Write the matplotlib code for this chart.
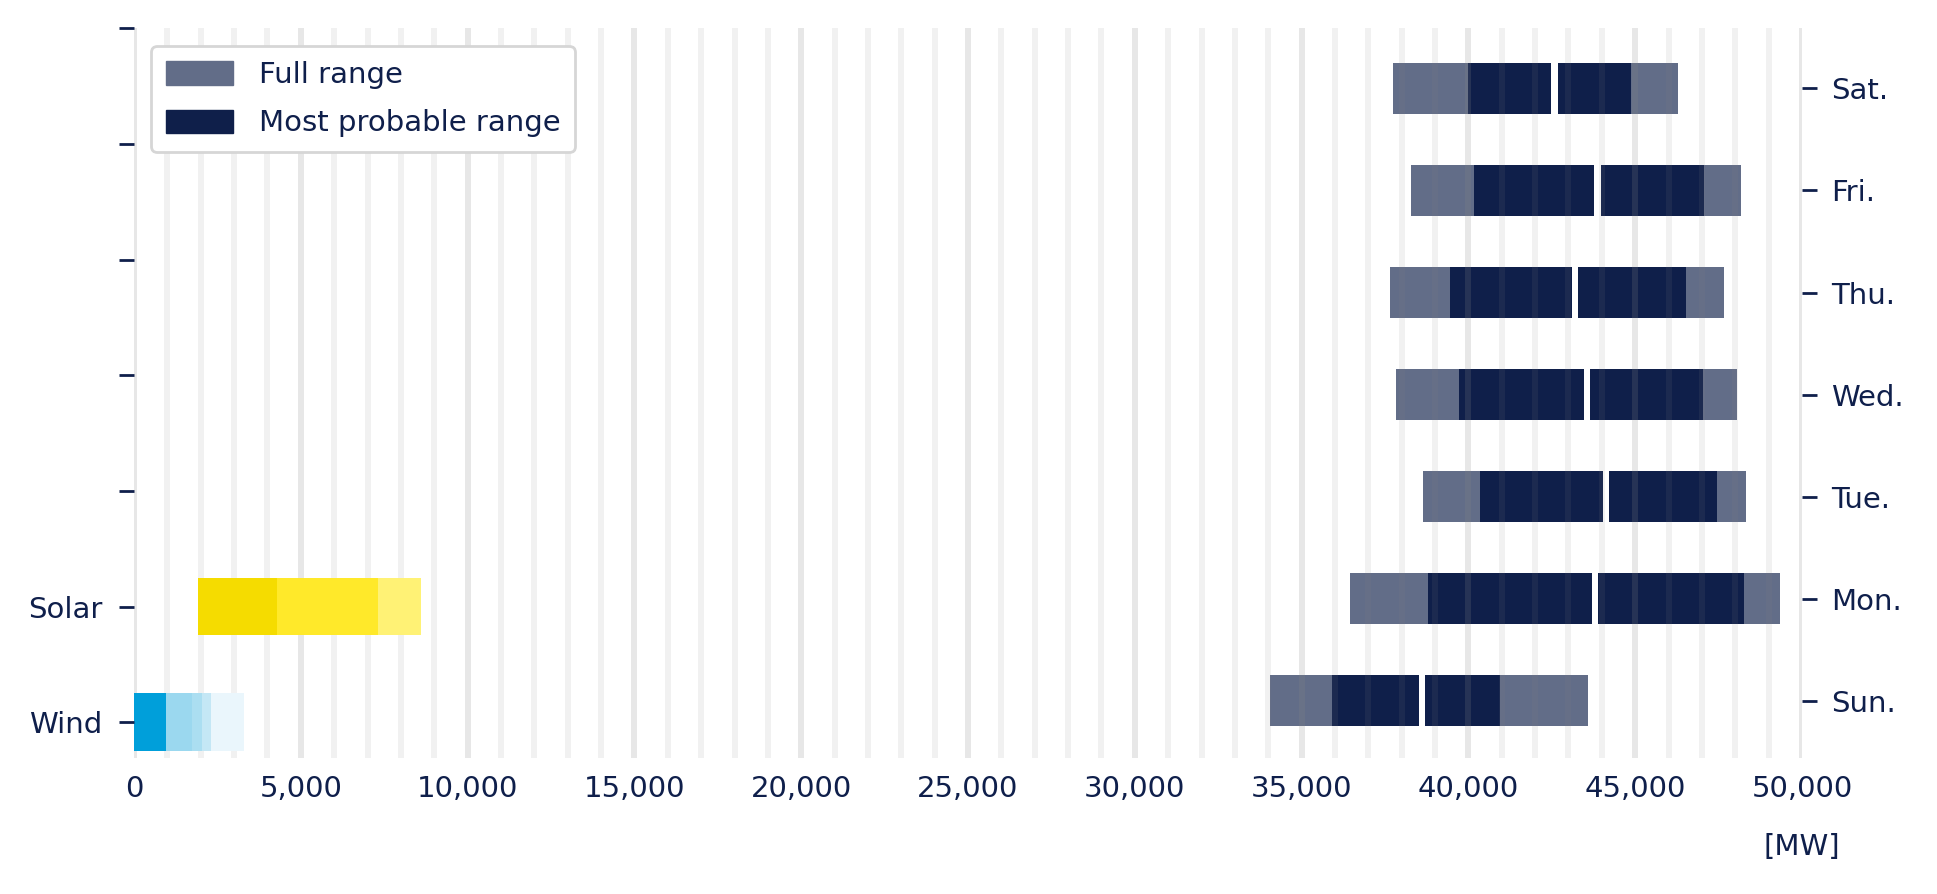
import matplotlib
matplotlib.use("Agg")
import matplotlib.pyplot as plt
import matplotlib.ticker as ticker
from matplotlib.patches import Patch

# weekday demand ranges [MW]
days = ["Sun.", "Mon.", "Tue.", "Wed.", "Thu.", "Fri.", "Sat."]
full_lo = [34050, 36460, 38650, 37840, 37650, 38290, 37750]
full_hi = [43590, 49330, 48310, 48040, 47660, 48180, 46280]
prob_lo = [35910, 38800, 40360, 39730, 39460, 40160, 40000]
prob_hi = [40960, 48250, 47440, 47020, 46510, 47050, 44860]
prob_split = [38610, 43795, 44125, 43555, 43200, 43860, 42580]

# renewables, stacked range bands [MW]
wind_edges = [0, 960, 1745, 2045, 2315, 3310]
wind_colors = ["#009fda", "#9bd8ef", "#abdef1", "#c4e7f5", "#eaf6fc"]
solar_edges = [1930, 4280, 7305, 8600]
solar_colors = ["#f5dc00", "#ffe92a", "#fff275"]
left_labels = ["Wind", "Solar", "", "", "", "", ""]

navy = "#0f1f4b"
grey_bar = "#626d88"
dark_bar = "#0f1f4a"

plt.rcParams["font.family"] = ["DejaVu Sans"]
plt.rcParams["font.size"] = 21

fig = plt.figure(figsize=(19.37, 8.94), dpi=100)
ax = fig.add_axes([0.0692, 0.152, 0.8611, 0.8165])
ax2 = ax.twinx()

# day bars on the lower axes, grid drawn over them
y = list(range(len(days)))
ax.barh(y, [h - l for l, h in zip(full_lo, full_hi)], left=full_lo,
        height=0.5, color=grey_bar, zorder=1)
ax.barh(y, [h - l for l, h in zip(prob_lo, prob_hi)], left=prob_lo,
        height=0.5, color=dark_bar, zorder=1.2)
ax.barh(y, 200, left=[s - 100 for s in prob_split], height=0.52,
        color="white", zorder=1.4)
ax.set_ylim(-0.56, 6.59)
ax.set_yticks(y)
ax.set_yticklabels(days)
ax.yaxis.tick_right()

ax.set_xlim(0, 50000)
ax.xaxis.set_major_locator(ticker.MultipleLocator(5000))
ax.xaxis.set_minor_locator(ticker.MultipleLocator(1000))
ax.xaxis.set_major_formatter(ticker.StrMethodFormatter("{x:,.0f}"))
ax.set_axisbelow(False)
ax.grid(axis="x", which="major", color="#878787", alpha=0.2, linewidth=4.3)
ax.grid(axis="x", which="minor", color="#878787", alpha=0.11, linewidth=4.3)
ax.grid(axis="y", visible=False)

# wind / solar on the twin axes, opaque over the grid
for i in range(len(wind_colors)):
    ax2.barh(0, wind_edges[i + 1] - wind_edges[i], left=wind_edges[i],
             height=0.5, color=wind_colors[i])
for i in range(len(solar_colors)):
    ax2.barh(1, solar_edges[i + 1] - solar_edges[i], left=solar_edges[i],
             height=0.5, color=solar_colors[i])
ax2.set_ylim(-0.31, 6.0)
ax2.set_yticks(range(len(left_labels)))
ax2.set_yticklabels(left_labels)
ax2.yaxis.tick_left()

for a in (ax, ax2):
    for s in a.spines.values():
        s.set_visible(False)
ax.tick_params(axis="x", which="both", length=0, pad=12, colors=navy)
ax.tick_params(axis="y", length=11, width=2, pad=10, colors=navy)
ax2.tick_params(axis="y", length=11, width=2, pad=12, colors=navy)

ax.text(1.0, -0.122, "[MW]", transform=ax.transAxes, ha="center",
        va="center", color=navy)

handles = [Patch(color=grey_bar, label="Full range"),
           Patch(color=dark_bar, label="Most probable range")]
leg = ax2.legend(handles=handles, loc="upper left",
                 bbox_to_anchor=(0.0102, 0.975), borderaxespad=0,
                 handlelength=2.3, handleheight=0.85, handletextpad=0.9,
                 labelspacing=0.7, borderpad=0.5, framealpha=1,
                 edgecolor="#d6d6d6", fancybox=True)
leg.get_frame().set_linewidth(2)
for t in leg.get_texts():
    t.set_color(navy)

fig.savefig("out.png", dpi=100)
